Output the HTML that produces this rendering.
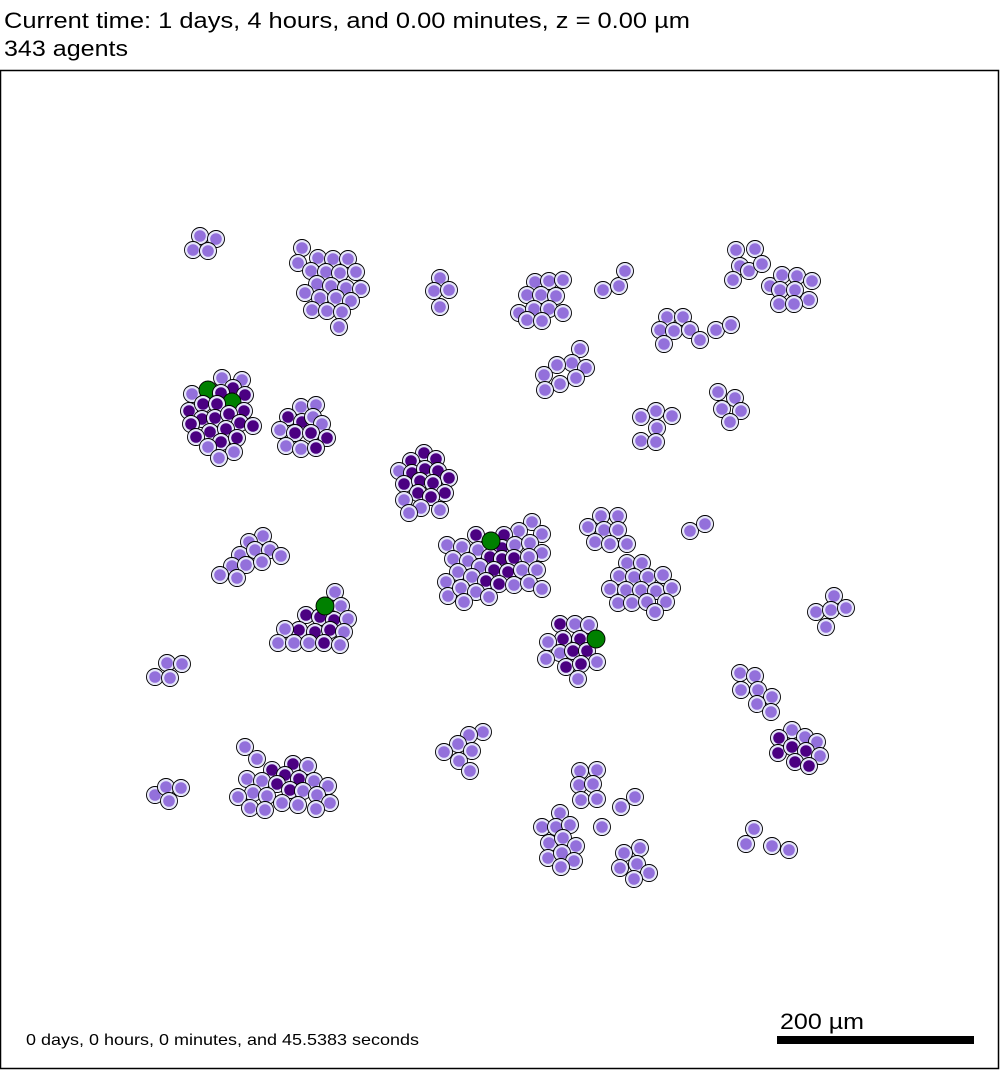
<!DOCTYPE html>
<html><head><meta charset="utf-8"><style>
body{margin:0;background:#fff;width:1000px;height:1070px;overflow:hidden;font-family:"Liberation Sans",sans-serif}
</style></head><body>
<svg id="sv" width="1000" height="1070" xmlns="http://www.w3.org/2000/svg">
<text x="4" y="28" font-size="22" textLength="686" lengthAdjust="spacingAndGlyphs" font-family="Liberation Sans, sans-serif">Current time: 1 days, 4 hours, and 0.00 minutes, z = 0.00 µm</text>
<text x="4" y="56" font-size="22" textLength="124" lengthAdjust="spacingAndGlyphs" font-family="Liberation Sans, sans-serif">343 agents</text>
<rect x="0.5" y="70.5" width="998" height="998" fill="#fff" stroke="#000" stroke-width="1.5"/>
<g id="cells"></g>
<text x="26" y="1045" font-size="16" textLength="393" lengthAdjust="spacingAndGlyphs" font-family="Liberation Sans, sans-serif">0 days, 0 hours, 0 minutes, and 45.5383 seconds</text>
<text x="780" y="1029" font-size="22" textLength="84" lengthAdjust="spacingAndGlyphs" font-family="Liberation Sans, sans-serif">200 µm</text>
<rect x="777" y="1036" width="197" height="8" fill="#000"/>
</svg>
<script>
const agents = [
[200,236,'l'],[216,239,'l'],[193,250,'l'],[208,251,'l'],
[302,248,'l'],[298,263,'l'],[318,258,'l'],[333,259,'l'],[348,259,'l'],[311,271,'l'],[326,272,'l'],[340,273,'l'],[356,272,'l'],[317,284,'l'],[331,286,'l'],[346,288,'l'],[361,289,'l'],[305,293,'l'],[320,298,'l'],[336,298,'l'],[351,301,'l'],[312,310,'l'],[327,311,'l'],[342,312,'l'],[339,327,'l'],
[440,278,'l'],[434,291,'l'],[449,290,'l'],[440,307,'l'],
[222,378,'l'],[242,380,'l'],[192,394,'l'],[208,390,'g'],[233,388,'d'],[221,393,'d'],[245,395,'d'],[232,402,'g'],[189,411,'d'],[203,404,'d'],[217,404,'d'],[244,411,'d'],[202,419,'d'],[215,418,'d'],[229,414,'d'],[191,424,'d'],[240,423,'d'],[253,426,'d'],[210,432,'d'],[226,429,'d'],[196,437,'d'],[221,442,'d'],[237,438,'d'],[208,447,'l'],[234,452,'l'],[219,458,'l'],
[301,407,'l'],[316,405,'l'],[288,417,'d'],[302,422,'d'],[313,417,'l'],[322,424,'l'],[280,430,'l'],[295,433,'d'],[311,433,'d'],[327,438,'d'],[286,446,'l'],[301,449,'l'],[316,448,'d'],
[424,453,'d'],[411,461,'d'],[436,459,'d'],[399,471,'l'],[412,473,'d'],[425,469,'d'],[438,471,'d'],[449,478,'d'],[404,484,'d'],[420,481,'d'],[433,483,'d'],[445,493,'d'],[418,493,'d'],[431,497,'d'],[404,500,'l'],[421,508,'l'],[440,510,'l'],[409,513,'l'],
[532,522,'l'],[519,531,'l'],[542,534,'l'],[504,535,'d'],[476,535,'d'],[447,545,'l'],[462,547,'l'],[478,550,'l'],[502,548,'d'],[515,545,'l'],[530,543,'l'],[542,553,'l'],[453,559,'l'],[468,561,'l'],[490,557,'d'],[502,559,'d'],[514,558,'d'],[529,557,'l'],[458,572,'l'],[480,567,'l'],[494,570,'d'],[508,572,'d'],[522,570,'l'],[537,570,'l'],[446,582,'l'],[472,577,'l'],[486,581,'d'],[499,584,'d'],[514,585,'l'],[529,583,'l'],[542,589,'l'],[448,596,'l'],[461,588,'l'],[476,592,'l'],[489,597,'l'],[464,602,'l'],[491,541,'g'],
[601,516,'l'],[618,516,'l'],[588,527,'l'],[604,530,'l'],[618,530,'l'],[595,542,'l'],[610,544,'l'],[627,544,'l'],[690,531,'l'],[705,524,'l'],
[627,563,'l'],[642,563,'l'],[619,576,'l'],[634,577,'l'],[648,577,'l'],[663,575,'l'],[610,589,'l'],[626,590,'l'],[641,590,'l'],[656,591,'l'],[672,588,'l'],[618,603,'l'],[632,603,'l'],[647,602,'l'],[666,602,'l'],[655,612,'l'],
[560,624,'d'],[575,624,'l'],[589,625,'l'],[580,639,'d'],[563,639,'d'],[548,642,'l'],[560,653,'l'],[573,651,'d'],[587,651,'d'],[546,659,'l'],[597,662,'l'],[566,667,'d'],[581,664,'d'],[578,679,'l'],[596,639,'g'],
[535,282,'l'],[549,281,'l'],[563,280,'l'],[527,295,'l'],[541,295,'l'],[556,296,'l'],[519,313,'l'],[534,309,'l'],[549,309,'l'],[527,320,'l'],[542,321,'l'],[563,313,'l'],
[603,290,'l'],[619,286,'l'],[625,271,'l'],
[736,250,'l'],[755,249,'l'],[740,266,'l'],[749,271,'l'],[762,264,'l'],[733,280,'l'],[770,286,'l'],[782,275,'l'],[797,276,'l'],[812,281,'l'],[780,290,'l'],[795,290,'l'],[809,300,'l'],[779,304,'l'],[794,304,'l'],
[667,317,'l'],[683,317,'l'],[660,330,'l'],[674,331,'l'],[690,330,'l'],[664,344,'l'],[700,340,'l'],[716,330,'l'],[731,325,'l'],
[580,349,'l'],[572,363,'l'],[586,368,'l'],[557,365,'l'],[544,375,'l'],[560,384,'l'],[576,378,'l'],[545,390,'l'],
[718,392,'l'],[735,398,'l'],[722,409,'l'],[741,411,'l'],[730,422,'l'],
[656,411,'l'],[672,416,'l'],[641,417,'l'],[657,428,'l'],[641,441,'l'],[656,442,'l'],
[263,536,'l'],[249,542,'l'],[240,555,'l'],[255,550,'l'],[270,550,'l'],[281,556,'l'],[232,566,'l'],[246,565,'l'],[262,562,'l'],[220,575,'l'],[237,578,'l'],
[335,592,'l'],[341,606,'l'],[306,615,'d'],[320,617,'d'],[334,620,'d'],[348,619,'l'],[299,630,'d'],[315,632,'d'],[330,630,'d'],[285,629,'l'],[344,632,'l'],[278,643,'l'],[294,643,'l'],[309,643,'l'],[324,643,'d'],[340,645,'l'],[325,606,'g'],
[155,677,'l'],[167,663,'l'],[182,664,'l'],[170,678,'l'],
[155,795,'l'],[166,787,'l'],[181,788,'l'],[169,801,'l'],
[245,747,'l'],[257,759,'l'],[272,770,'d'],[293,764,'d'],[308,766,'l'],[247,779,'l'],[262,781,'l'],[285,775,'d'],[299,779,'d'],[314,781,'l'],[328,786,'l'],[277,784,'d'],[290,790,'d'],[253,793,'l'],[303,791,'l'],[317,795,'l'],[238,797,'l'],[267,796,'l'],[282,803,'l'],[298,805,'l'],[330,803,'l'],[250,808,'l'],[265,810,'l'],[316,809,'l'],
[740,673,'l'],[755,676,'l'],[741,690,'l'],[758,690,'l'],[772,697,'l'],[757,704,'l'],[771,712,'l'],
[792,730,'l'],[779,738,'d'],[805,737,'l'],[817,742,'l'],[778,753,'d'],[792,747,'d'],[806,751,'d'],[820,756,'l'],[795,762,'d'],[809,766,'d'],
[483,732,'l'],[469,735,'l'],[458,744,'l'],[472,751,'l'],[444,752,'l'],[459,761,'l'],[470,771,'l'],
[580,771,'l'],[597,770,'l'],[579,785,'l'],[593,784,'l'],[581,800,'l'],[597,799,'l'],[635,797,'l'],[621,807,'l'],[602,827,'l'],
[560,813,'l'],[542,827,'l'],[556,827,'l'],[570,825,'l'],[549,843,'l'],[563,838,'l'],[576,846,'l'],[548,858,'l'],[562,853,'l'],[574,861,'l'],[561,867,'l'],
[640,848,'l'],[624,853,'l'],[637,864,'l'],[620,868,'l'],[649,873,'l'],[634,879,'l'],
[754,829,'l'],[746,844,'l'],[772,846,'l'],[789,850,'l'],
[834,596,'l'],[816,612,'l'],[831,610,'l'],[846,608,'l'],[826,627,'l']
];
const NS='http://www.w3.org/2000/svg';
const g=document.getElementById('cells');
const colors={l:'#9370db',d:'#4b0082',g:'#008000'};
agents.forEach(a=>{
  const [x,y,t]=a;
  const o=document.createElementNS(NS,'circle');
  
  
  o.setAttribute('cx',x);o.setAttribute('cy',y);
  o.setAttribute('r',t==='g'?9:8.5);
  o.setAttribute('fill',t==='g'?colors.g:'#e6e6fa');
  o.setAttribute('stroke','#000');o.setAttribute('stroke-width','0.9');
  g.appendChild(o);
  if(t!=='g'){
    const n=document.createElementNS(NS,'circle');
    
    
    n.setAttribute('cx',x);n.setAttribute('cy',y);n.setAttribute('r',5.8);
    n.setAttribute('fill',colors[t]);
    g.appendChild(n);
  }
});
</script>
</body></html>
